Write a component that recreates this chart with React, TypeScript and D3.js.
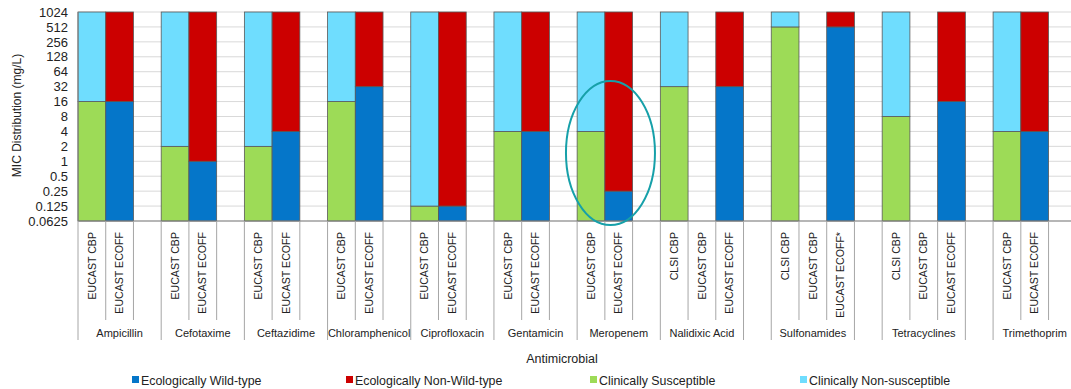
import React from "react";
import * as d3 from "d3";

// ---- Data ----
const antimicrobials = [
  "Ampicillin", "Cefotaxime", "Ceftazidime", "Chloramphenicol", "Ciprofloxacin",
  "Gentamicin", "Meropenem", "Nalidixic Acid", "", "Sulfonamides", "", "Tetracyclines", "", "Trimethoprim",
];
const groupSpans = [3, 3, 3, 3, 3, 3, 3, 3, 1, 3, 1, 3, 1, 3];

const slotLabels = [
  "EUCAST CBP", "EUCAST ECOFF", "",
  "EUCAST CBP", "EUCAST ECOFF", "",
  "EUCAST CBP", "EUCAST ECOFF", "",
  "EUCAST CBP", "EUCAST ECOFF", "",
  "EUCAST CBP", "EUCAST ECOFF", "",
  "EUCAST CBP", "EUCAST ECOFF", "",
  "EUCAST CBP", "EUCAST ECOFF", "",
  "CLSI CBP", "EUCAST CBP", "EUCAST ECOFF",
  "",
  "CLSI CBP", "EUCAST CBP", "EUCAST ECOFF*",
  "",
  "CLSI CBP", "EUCAST CBP", "EUCAST ECOFF",
  "",
  "EUCAST CBP", "EUCAST ECOFF", "",
];

// breakpoint (mg/L) separating lower (susceptible / wild-type) and upper segments
const breakpoints: (number | null)[] = [
  16, 16, null,
  2, 1, null,
  2, 4, null,
  16, 32, null,
  0.125, 0.125, null,
  4, 4, null,
  4, 0.25, null,
  32, null, 32,
  null,
  512, null, 512,
  null,
  8, null, 16,
  null,
  4, 4, null,
];

const yTicks = [0.0625, 0.125, 0.25, 0.5, 1, 2, 4, 8, 16, 32, 64, 128, 256, 512, 1024];
const yTickLabels = ["0.0625", "0.125", "0.25", "0.5", "1", "2", "4", "8", "16", "32", "64", "128", "256", "512", "1024"];

const legendItems = [
  { label: "Ecologically Wild-type", color: "#0576C9" },
  { label: "Ecologically Non-Wild-type", color: "#CC0000" },
  { label: "Clinically Susceptible", color: "#9DDB57" },
  { label: "Clinically Non-susceptible", color: "#6FDDFE" },
];

const COLORS = {
  wild: "#0576C9",
  nonWild: "#CC0000",
  susc: "#9DDB57",
  nonSusc: "#6FDDFE",
};

const FONT = "'Liberation Sans', Arial, Helvetica, sans-serif";

export default function App() {
  const W = 1071, H = 389;
  const left = 78, top = 12, bottom = 221;
  const slotW = 27.73;
  const n = slotLabels.length;
  const right = left + n * slotW;

  const x = d3.scaleBand<number>().domain(d3.range(n)).range([left, right]).padding(0);
  const y = d3.scaleLog().base(2).domain([0.0625, 1024]).range([bottom, top]);

  // group boundaries
  const groupStarts: number[] = [];
  let acc = 0;
  groupSpans.forEach((s) => { groupStarts.push(acc); acc += s; });
  const groupBoundarySet = new Set<number>();
  groupStarts.forEach((s, i) => { groupBoundarySet.add(s); groupBoundarySet.add(s + groupSpans[i]); });

  const boundaries = d3.range(n + 1);

  return (
    <svg width={W} height={H} style={{ position: "absolute", left: 0, top: 0, background: "#fff" }} fontFamily={FONT}>
      <rect x={0} y={0} width={W} height={H} fill="#fff" />
      {/* gridlines */}
      {yTicks.map((t, i) => (
        <line key={"g" + i} x1={left} x2={right} y1={y(t)} y2={y(t)} stroke="#D9D9D9" strokeWidth={1} />
      ))}
      {/* bars */}
      {breakpoints.map((v, i) => {
        if (v == null) return null;
        const eco = slotLabels[i].includes("ECOFF");
        const lowC = eco ? COLORS.wild : COLORS.susc;
        const upC = eco ? COLORS.nonWild : COLORS.nonSusc;
        const bx = x(i)!;
        const bw = x.bandwidth();
        return (
          <g key={"b" + i}>
            <rect x={bx} y={y(v)} width={bw} height={y(0.0625) - y(v)} fill={lowC} stroke="#595959" strokeWidth={0.8} />
            <rect x={bx} y={y(1024)} width={bw} height={y(v) - y(1024)} fill={upC} stroke="#595959" strokeWidth={0.8} />
          </g>
        );
      })}
      {/* axes lines */}
      <line x1={left} x2={left} y1={top} y2={bottom} stroke="#808080" strokeWidth={1} />
      <line x1={left} x2={right} y1={bottom} y2={bottom} stroke="#808080" strokeWidth={1} />
      {/* y tick labels */}
      {yTicks.map((t, i) => (
        <text key={"yt" + i} x={68} y={y(t)} dy="0.36em" textAnchor="end" fontSize={13} fill="#222">
          {yTickLabels[i]}
        </text>
      ))}
      {/* y title */}
      <text transform={`translate(21,${(top + bottom) / 2 - 1}) rotate(-90)`} textAnchor="middle" fontSize={12} fill="#222">
        MIC  Distribution (mg/L)
      </text>
      {/* category separators */}
      {boundaries.map((b) => {
        const bx = left + b * slotW;
        const long = groupBoundarySet.has(b);
        return <line key={"s" + b} x1={bx} x2={bx} y1={bottom} y2={long ? 340 : 320} stroke="#A6A6A6" strokeWidth={1} />;
      })}
      {/* slot labels */}
      {slotLabels.map((l, i) =>
        l ? (
          <text key={"sl" + i} transform={`translate(${x(i)! + x.bandwidth() / 2 + 3.7},232) rotate(-90)`} textAnchor="end" fontSize={10.6} fill="#222">
            {l}
          </text>
        ) : null
      )}
      {/* group labels */}
      {antimicrobials.map((g, i) =>
        g ? (
          <text key={"gl" + i} x={left + (groupStarts[i] + groupSpans[i] / 2) * slotW} y={337} textAnchor="middle" fontSize={11} fill="#222">
            {g}
          </text>
        ) : null
      )}
      {/* x title */}
      <text x={562} y={362.5} textAnchor="middle" fontSize={12.5} fill="#222">Antimicrobial</text>
      {/* legend */}
      {legendItems.map((it, i) => {
        const lx = [132, 346, 590, 800][i];
        return (
          <g key={"lg" + i}>
            <rect x={lx} y={376} width={7} height={7} fill={it.color} />
            <text x={lx + 9} y={384.5} fontSize={12.4} fill="#222">{it.label}</text>
          </g>
        );
      })}
      {/* annotation ellipse */}
      <ellipse cx={x(19)! + 5.6} cy={153} rx={44.5} ry={72} fill="none" stroke="#16A0A9" strokeWidth={2} />
    </svg>
  );
}
